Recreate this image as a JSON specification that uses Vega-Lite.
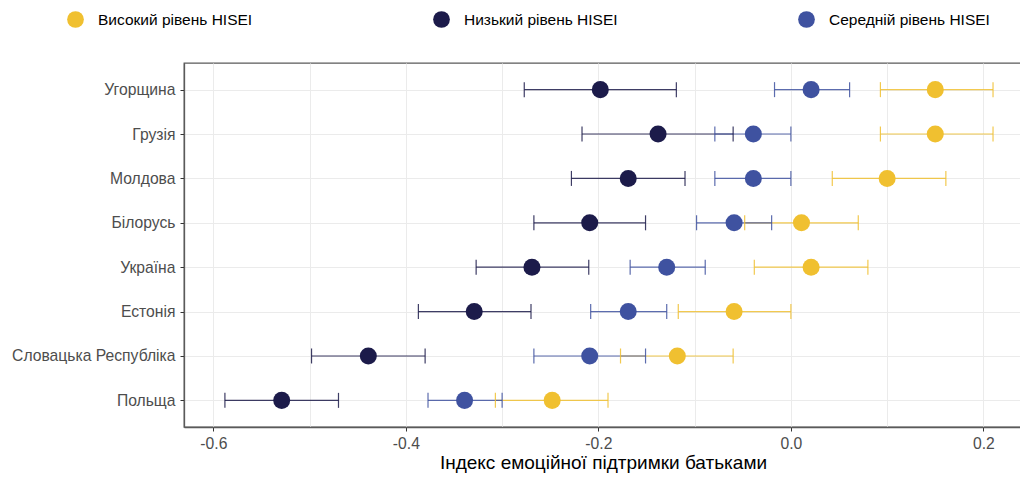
{
  "$schema": "https://vega.github.io/schema/vega-lite/v6.json",
  "autosize": "none",
  "width": 838,
  "height": 364,
  "padding": {"left": 184, "top": 63, "right": 0, "bottom": 50},
  "background": "white",
  "config": {
    "font": "Liberation Sans",
    "view": {"stroke": "#5a5a5a", "strokeWidth": 1.3},
    "axis": {
      "domainColor": "#5a5a5a",
      "domainWidth": 1.3,
      "gridColor": "#EBEBEB",
      "gridWidth": 1,
      "tickColor": "#333333",
      "tickSize": 4,
      "labelColor": "#4D4D4D",
      "labelFontSize": 15.7,
      "labelFont": "Liberation Sans",
      "titleFont": "Liberation Sans",
      "titleFontSize": 19,
      "titleFontWeight": "normal",
      "titleColor": "#000000"
    }
  },
  "data": {
    "values": [
      {"country": "Угорщина", "group": "Високий рівень HISEI", "v": 0.15, "lo": 0.093, "hi": 0.21},
      {"country": "Угорщина", "group": "Низький рівень HISEI", "v": -0.198, "lo": -0.277, "hi": -0.119},
      {"country": "Угорщина", "group": "Середній рівень HISEI", "v": 0.021, "lo": -0.017, "hi": 0.061},
      {"country": "Грузія", "group": "Високий рівень HISEI", "v": 0.15, "lo": 0.093, "hi": 0.21},
      {"country": "Грузія", "group": "Низький рівень HISEI", "v": -0.138, "lo": -0.217, "hi": -0.06},
      {"country": "Грузія", "group": "Середній рівень HISEI", "v": -0.039, "lo": -0.079, "hi": 0.0},
      {"country": "Молдова", "group": "Високий рівень HISEI", "v": 0.10, "lo": 0.043, "hi": 0.161},
      {"country": "Молдова", "group": "Низький рівень HISEI", "v": -0.169, "lo": -0.228, "hi": -0.110},
      {"country": "Молдова", "group": "Середній рівень HISEI", "v": -0.039, "lo": -0.079, "hi": 0.0},
      {"country": "Білорусь", "group": "Високий рівень HISEI", "v": 0.011, "lo": -0.048, "hi": 0.070},
      {"country": "Білорусь", "group": "Низький рівень HISEI", "v": -0.209, "lo": -0.267, "hi": -0.151},
      {"country": "Білорусь", "group": "Середній рівень HISEI", "v": -0.059, "lo": -0.098, "hi": -0.020},
      {"country": "Україна", "group": "Високий рівень HISEI", "v": 0.021, "lo": -0.038, "hi": 0.080},
      {"country": "Україна", "group": "Низький рівень HISEI", "v": -0.269, "lo": -0.327, "hi": -0.210},
      {"country": "Україна", "group": "Середній рівень HISEI", "v": -0.129, "lo": -0.167, "hi": -0.089},
      {"country": "Естонія", "group": "Високий рівень HISEI", "v": -0.059, "lo": -0.117, "hi": 0.0},
      {"country": "Естонія", "group": "Низький рівень HISEI", "v": -0.329, "lo": -0.387, "hi": -0.270},
      {"country": "Естонія", "group": "Середній рівень HISEI", "v": -0.169, "lo": -0.208, "hi": -0.129},
      {"country": "Словацька Республіка", "group": "Високий рівень HISEI", "v": -0.118, "lo": -0.177, "hi": -0.060},
      {"country": "Словацька Республіка", "group": "Низький рівень HISEI", "v": -0.439, "lo": -0.498, "hi": -0.380},
      {"country": "Словацька Республіка", "group": "Середній рівень HISEI", "v": -0.209, "lo": -0.267, "hi": -0.151},
      {"country": "Польща", "group": "Високий рівень HISEI", "v": -0.248, "lo": -0.307, "hi": -0.190},
      {"country": "Польща", "group": "Низький рівень HISEI", "v": -0.529, "lo": -0.588, "hi": -0.470},
      {"country": "Польща", "group": "Середній рівень HISEI", "v": -0.339, "lo": -0.377, "hi": -0.300}
    ]
  },
  "encoding": {
    "y": {
      "field": "country",
      "type": "nominal",
      "sort": ["Угорщина", "Грузія", "Молдова", "Білорусь", "Україна", "Естонія", "Словацька Республіка", "Польща"],
      "scale": {"type": "point", "padding": 0.6},
      "axis": {"title": null, "grid": true, "tickSize": 4, "labelPadding": 5, "domain": true, "labelLimit": 300}
    },
    "color": {
      "field": "group",
      "type": "nominal",
      "scale": {
        "domain": ["Високий рівень HISEI", "Низький рівень HISEI", "Середній рівень HISEI"],
        "range": ["#F0C030", "#1C1B4A", "#3F52A0"]
      },
      "legend": {
        "title": null,
        "orient": "none",
        "direction": "horizontal",
        "legendX": -117,
        "legendY": -52,
        "columns": 3,
        "columnPadding": 180,
        "symbolType": "circle",
        "symbolSize": 280,
        "symbolStrokeWidth": 0,
        "symbolOpacity": 1,
        "labelFontSize": 15.5,
        "labelColor": "#000000",
        "labelFont": "Liberation Sans",
        "labelOffset": 14,
        "labelLimit": 300
      }
    }
  },
  "layer": [
    {
      "mark": {"type": "rule", "strokeWidth": 1.2, "opacity": 0.85},
      "encoding": {
        "x": {
          "field": "lo",
          "type": "quantitative",
          "scale": {"domain": [-0.6305, 0.2401], "nice": false, "zero": false},
          "axis": {
            "title": "Індекс емоційної підтримки батьками",
            "values": [-0.6, -0.5, -0.4, -0.3, -0.2, -0.1, 0.0, 0.1, 0.2],
            "labelExpr": "abs(round(datum.value*10)) % 2 == 0 ? (datum.value < -0.01 ? '-' : '') + format(abs(datum.value), '.1f') : ''",
            "tickOpacity": {"condition": {"test": "abs(round(datum.value*10)) % 2 == 0", "value": 1}, "value": 0},
            "grid": true,
            "labelPadding": 5,
            "titlePadding": 3
          }
        },
        "x2": {"field": "hi"}
      }
    },
    {
      "mark": {"type": "tick", "orient": "vertical", "size": 15, "thickness": 1.2, "opacity": 0.85},
      "encoding": {"x": {"field": "lo", "type": "quantitative"}}
    },
    {
      "mark": {"type": "tick", "orient": "vertical", "size": 15, "thickness": 1.2, "opacity": 0.85},
      "encoding": {"x": {"field": "hi", "type": "quantitative"}}
    },
    {
      "mark": {"type": "circle", "size": 290, "opacity": 1},
      "encoding": {"x": {"field": "v", "type": "quantitative"}}
    }
  ]
}
